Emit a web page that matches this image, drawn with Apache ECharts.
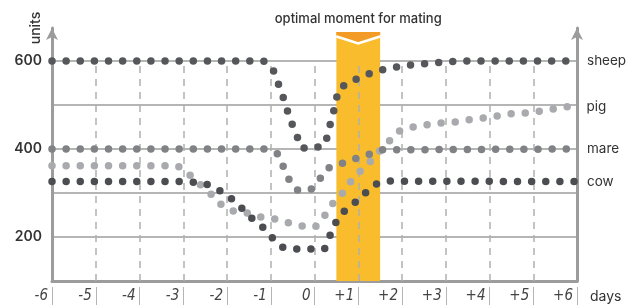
<!DOCTYPE html>
<html>
<head>
<meta charset="utf-8">
<script src="https://cdn.jsdelivr.net/npm/echarts@6/dist/echarts.min.js"></script>
<style>
  html, body { margin: 0; padding: 0; background: #fff; }
  #chart { width: 627px; height: 307px; }
</style>
</head>
<body>
<div id="chart"></div>
<script>
// x ticks (days) and their labels
const dayTicks = [-6, -5, -4, -3, -2, -1, 0, 1, 2, 3, 4, 5, 6];
const dayLabels = ['-6', '-5', '-4', '-3', '-2', '-1', '0', '+1', '+2', '+3', '+4', '+5', '+6'];
const unitLabels = [200, 400, 600];
const guideDays = [-5, -4, -3, -2, -1, 0, 1, 2, 3, 4, 5];

// optimal window for mating, in days
const matingWindow = [0.5, 1.5];
const windowTop = 666;

// [day, units]
const sheep = [[-6, 600], [-1.16, 600], [-0.96, 584], [-0.84, 552], [-0.73, 522], [-0.64, 493], [-0.53, 461],
  [-0.41, 432], [-0.3, 402], [0.02, 402], [0.25, 411], [0.32, 443], [0.41, 473], [0.48, 505], [0.55, 536],
  [0.8, 552], [1.12, 566], [1.42, 577], [1.74, 584], [2.05, 589], [2.35, 593], [2.69, 595], [3.0, 598],
  [3.3, 600], [6, 600]];
const pig = [[-6, 362], [-3.13, 362], [-2.85, 341], [-2.6, 318], [-2.37, 298], [-2.15, 275], [-1.87, 259],
  [-1.55, 255], [-1.21, 245], [-0.91, 241], [-0.59, 232], [-0.27, 225], [0.02, 223], [0.23, 248], [0.41, 275],
  [0.64, 300], [0.82, 325], [1.03, 348], [1.26, 370], [1.51, 398], [1.71, 418], [1.94, 441], [2.24, 450],
  [2.56, 455], [2.88, 459], [3.2, 461], [3.52, 466], [3.84, 470], [4.16, 475], [4.5, 480], [4.82, 482],
  [5.14, 486], [5.46, 491], [5.78, 496]];
const mare = [[-6, 400], [-1.16, 400], [-0.84, 389], [-0.71, 359], [-0.59, 332], [-0.41, 307], [-0.09, 307],
  [0.11, 330], [0.27, 355], [0.59, 366], [0.89, 377], [1.19, 386], [1.51, 398], [6, 400]];
const cow = [[-6, 326], [-3.13, 326], [-2.79, 325], [-2.47, 320], [-2.19, 307], [-1.92, 289], [-1.67, 266],
  [-1.44, 243], [-1.19, 223], [-0.96, 198], [-0.73, 177], [-0.41, 173], [-0.09, 173], [0.23, 173], [0.34, 200],
  [0.48, 232], [0.66, 257], [0.91, 277], [1.16, 300], [1.39, 320], [1.69, 327], [6, 326]];

const FONT = 'Inter, "Noto Sans", sans-serif';
const axisGrey = '#9c9c9c';

function dotted(name, data, color, labelGap) {
  return {
    name: name,
    type: 'line',
    data: data,
    showSymbol: false,
    clip: false,
    z: 5,
    lineStyle: { color: color, width: 7.5, type: [0, 14.13], cap: 'round' },
    endLabel: {
      show: true, formatter: name, distance: labelGap,
      color: '#333', fontSize: 13.5, fontFamily: FONT
    },
    emphasis: { disabled: true }
  };
}

const chart = echarts.init(document.getElementById('chart'));
const option = {
  animation: false,
  grid: { left: 52, right: 50, top: 28, bottom: 26 },
  xAxis: [{
    type: 'value', min: -6, max: 6, interval: 1,
    axisLine: { show: true, onZero: false, lineStyle: { color: axisGrey, width: 3 } },
    axisTick: { show: false },
    axisLabel: { show: false },
    splitLine: { show: false }
  }, {
    type: 'value', min: -6, max: 6, interval: 1, position: 'bottom', offset: 6,
    axisLine: { show: false, onZero: false },
    axisTick: { show: true, length: 18, lineStyle: { color: '#b5b5b5', width: 1 } },
    axisLabel: {
      margin: 2, align: 'right', padding: [0, 4, 0, 0],
      fontStyle: 'italic', fontSize: 15, color: '#444',
      fontFamily: '"Liberation Sans Narrow", "DejaVu Sans Condensed", sans-serif',
      formatter: v => { const i = dayTicks.indexOf(v); return i < 0 ? '' : dayLabels[i]; }
    },
    splitLine: { show: false },
    name: 'days', nameLocation: 'end', nameGap: 13,
    nameTextStyle: { color: '#333', fontSize: 14, fontFamily: FONT, align: 'left', verticalAlign: 'top', padding: [3, 0, 0, 0] }
  }],
  yAxis: [{
    type: 'value', min: 100, max: 675, interval: 100, position: 'left',
    axisLine: { show: true, onZero: false, symbol: ['none', 'arrow'], symbolSize: [9, 12], lineStyle: { color: axisGrey, width: 3 } },
    axisTick: { show: false },
    axisLabel: {
      margin: 10, color: '#333', fontSize: 14, fontWeight: 600, fontFamily: FONT,
      formatter: v => unitLabels.indexOf(v) >= 0 ? String(v) : ''
    },
    splitLine: { show: true, showMinLine: false, showMaxLine: false, lineStyle: { color: axisGrey, width: 1.5 } }
  }, {
    type: 'value', min: 100, max: 675, interval: 100, position: 'right',
    axisLine: { show: true, onZero: false, symbol: ['none', 'arrow'], symbolSize: [9, 12], lineStyle: { color: axisGrey, width: 3 } },
    axisTick: { show: false },
    axisLabel: { show: false },
    splitLine: { show: false }
  }],
  graphic: [{
    type: 'text', x: 36, y: 28, rotation: Math.PI / 2,
    style: { text: 'units', align: 'center', verticalAlign: 'middle', fill: '#333', font: '500 14px ' + FONT }
  }],
  series: [{
    type: 'custom',
    z: 1,
    silent: true,
    data: [matingWindow],
    renderItem: function (params, api) {
      const a = api.coord([api.value(0), 100]);
      const b = api.coord([api.value(1), windowTop]);
      const x0 = a[0], x1 = b[0], xc = (x0 + x1) / 2, y0 = b[1];
      return {
        type: 'group',
        children: [
          { type: 'rect', shape: { x: x0, y: y0, width: x1 - x0, height: a[1] - y0 }, style: { fill: '#F9BC2C' } },
          { type: 'polygon', shape: { points: [[x0, y0], [x1, y0], [x1, y0 + 3], [xc, y0 + 10], [x0, y0 + 3]] }, style: { fill: '#F39B27' } },
          { type: 'polyline', shape: { points: [[x0, y0 + 4.5], [xc, y0 + 11.5], [x1, y0 + 4.5]] }, style: { stroke: '#fff', lineWidth: 2.5, fill: null } },
          { type: 'text', x: xc, y: y0 - 13, style: { text: 'optimal moment for mating', align: 'center', verticalAlign: 'middle', fill: '#333', font: '500 13px ' + FONT } }
        ]
      };
    }
  }, {
    type: 'line',
    data: [],
    z: 3,
    silent: true,
    markLine: {
      symbol: ['none', 'none'],
      silent: true,
      label: { show: false },
      lineStyle: { color: '#b0b0b0', width: 1.5, type: [7, 6] },
      data: guideDays.map(d => [{ coord: [d, 100] }, { coord: [d, 600] }])
    }
  },
    dotted('sheep', sheep, '#55575b', 10),
    dotted('pig', pig, '#a8aaad', 19),
    dotted('mare', mare, '#808285', 10),
    dotted('cow', cow, '#4b4d51', 10)
  ]
};
chart.setOption(option);
window.onresize = chart.resize;
</script>
</body>
</html>
